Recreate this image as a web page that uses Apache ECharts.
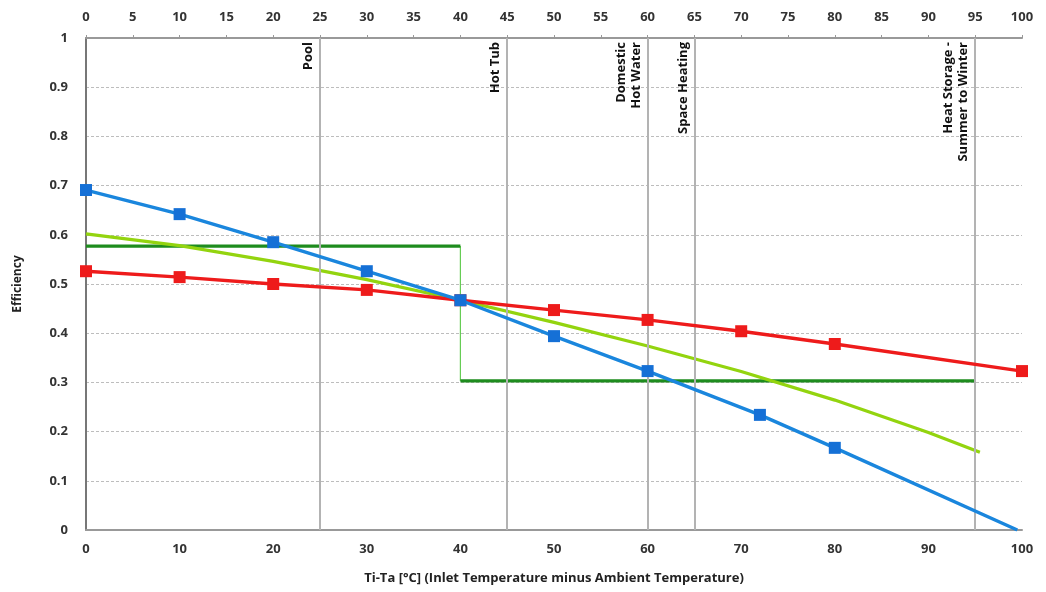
<!DOCTYPE html>
<html>
<head>
<meta charset="utf-8">
<script src="https://cdn.jsdelivr.net/npm/echarts@6/dist/echarts.min.js"></script>
<style>html,body{margin:0;padding:0;background:#fff}#c{width:1046px;height:592px}</style>
</head>
<body>
<div id="c"></div>
<script>
// ---- data ----
const blueX = [0, 10, 20, 30, 40, 50, 60, 72, 80, 99.5];
const blueY = [0.691, 0.642, 0.585, 0.526, 0.467, 0.394, 0.323, 0.234, 0.167, 0.0];
const redX = [0, 10, 20, 30, 40, 50, 60, 70, 80, 100];
const redY = [0.526, 0.514, 0.500, 0.488, 0.467, 0.447, 0.427, 0.404, 0.378, 0.323];
const limeX = [0, 10, 20, 30, 40, 50, 60, 70, 80, 90, 95.5];
const limeY = [0.602, 0.578, 0.546, 0.509, 0.467, 0.422, 0.374, 0.322, 0.264, 0.198, 0.158];
const stepHighX = [0, 40];
const stepHighY = [0.577, 0.577];
const stepLowX = [40, 95];
const stepLowY = [0.303, 0.303];
const refLines = [25, 45, 60, 65, 95];
const refLabels = ['Pool', 'Hot Tub', 'Domestic\nHot Water', 'Space Heating', 'Heat Storage -\nSummer to Winter'];
const topTicks = {min: 0, max: 100, interval: 5};
const bottomTicks = {min: 0, max: 100, interval: 10};
const yTicks = {min: 0, max: 1, interval: 0.1};

const FONT = "'Liberation Sans Narrow', 'Open Sans', sans-serif";
const pairs = (xs, ys) => xs.map((x, i) => [x, ys[i]]);

const blueData = pairs(blueX, blueY).map((p, i) =>
  i === blueX.length - 1 ? {value: p, symbol: 'none'} : {value: p});

const chart = echarts.init(document.getElementById('c'));
chart.setOption({
  animation: false,
  backgroundColor: '#fff',
  grid: {left: 86, right: 24, top: 38, bottom: 62},
  xAxis: [
    {
      type: 'value', position: 'bottom', min: bottomTicks.min, max: bottomTicks.max, interval: bottomTicks.interval,
      name: 'Ti-Ta [°C] (Inlet Temperature minus Ambient Temperature)',
      nameLocation: 'middle', nameGap: 42,
      nameTextStyle: {fontFamily: FONT, fontWeight: 'bold', fontSize: 13, color: '#222'},
      axisLine: {lineStyle: {color: '#999', width: 2}},
      axisTick: {show: false},
      axisLabel: {fontFamily: FONT, fontWeight: 'bold', fontSize: 13, color: '#333', margin: 13},
      splitLine: {show: false}
    },
    {
      type: 'value', position: 'top', min: topTicks.min, max: topTicks.max, interval: topTicks.interval,
      axisLine: {lineStyle: {color: '#999', width: 2}},
      axisTick: {show: true, inside: false, length: 3, lineStyle: {color: '#999'}},
      axisLabel: {fontFamily: FONT, fontWeight: 'bold', fontSize: 13, color: '#333', margin: 14},
      splitLine: {show: false}
    }
  ],
  yAxis: {
    type: 'value', min: yTicks.min, max: yTicks.max, interval: yTicks.interval,
    name: 'Efficiency', nameLocation: 'middle', nameGap: 62, nameRotate: 90,
    nameTextStyle: {fontFamily: FONT, fontWeight: 'bold', fontSize: 12, color: '#222'},
    axisLine: {show: true, lineStyle: {color: '#777', width: 2}},
    axisTick: {show: false},
    axisLabel: {fontFamily: FONT, fontWeight: 'bold', fontSize: 13, color: '#333', margin: 18},
    splitLine: {show: true, lineStyle: {color: '#bdbdbd', type: [3, 2], width: 1}}
  },
  series: [
    {
      type: 'line', name: 'ref', data: [], silent: true,
      markLine: {
        symbol: 'none', silent: true, animation: false,
        lineStyle: {color: '#b3b3b3', width: 2, type: 'solid'},
        label: {
          show: true, position: 'insideEndTop', formatter: '{b}', distance: 4,
          fontFamily: FONT, fontWeight: 'bold', fontSize: 13, color: '#111', lineHeight: 15
        },
        data: refLines.map((x, i) => [{coord: [x, 0], name: refLabels[i]}, {coord: [x, 1]}])
      }
    },
    {
      type: 'line', name: 'stepVertical', data: [[stepHighX[1], stepHighY[1]], [stepLowX[0], stepLowY[0]]],
      symbol: 'none', lineStyle: {color: '#66cc55', width: 1.2}, z: 3
    },
    {
      type: 'line', name: 'stepHigh', data: pairs(stepHighX, stepHighY),
      symbol: 'none', lineStyle: {color: '#1e8c1e', width: 3.2}, z: 3
    },
    {
      type: 'line', name: 'stepLow', data: pairs(stepLowX, stepLowY),
      symbol: 'none', lineStyle: {color: '#1e8c1e', width: 3.2}, z: 3
    },
    {
      type: 'line', name: 'lime', data: pairs(limeX, limeY), smooth: false,
      symbol: 'none', lineStyle: {color: '#93d40f', width: 3.2, join: 'round'}, z: 4
    },
    {
      type: 'line', name: 'red', data: pairs(redX, redY),
      symbol: 'rect', symbolSize: 12, showAllSymbol: true,
      itemStyle: {color: '#ee1b1b'}, lineStyle: {color: '#ee1b1b', width: 3.4}, z: 5
    },
    {
      type: 'line', name: 'blue', data: blueData,
      symbol: 'rect', symbolSize: 12, showAllSymbol: true,
      itemStyle: {color: '#1570d6'}, lineStyle: {color: '#1a86dd', width: 3.4}, z: 6
    }
  ]
});
</script>
</body>
</html>
